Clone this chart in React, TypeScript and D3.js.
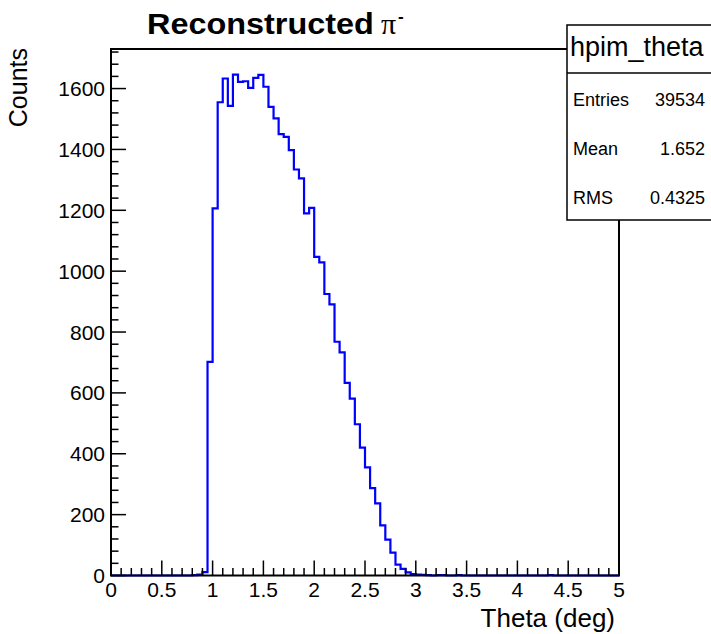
import React from "react";
import * as d3 from "d3";

// ---- data ----
const binLow = 0;
const binHigh = 5;
const counts: number[] = [
  0, 0, 0, 0, 0, 0, 0, 0, 0, 0,
  0, 0, 0, 0, 0, 0, 1, 3, 11, 702,
  1206, 1555, 1633, 1543, 1646, 1622, 1624, 1602, 1635, 1645,
  1606, 1540, 1502, 1450, 1441, 1398, 1334, 1305, 1190, 1208,
  1047, 1029, 925, 891, 768, 733, 633, 581, 497, 420,
  355, 287, 237, 165, 118, 75, 36, 22, 10, 5,
  3, 2, 1, 0, 1, 1, 0, 0, 1, 0,
  0, 0, 0, 0, 0, 0, 0, 0, 0, 0,
  0, 0, 0, 0, 0, 0, 1, 0, 0, 0,
  0, 0, 0, 0, 0, 0, 0, 0, 0, 0,
];
const xTickLabels = ["0", "0.5", "1", "1.5", "2", "2.5", "3", "3.5", "4", "4.5", "5"];
const xTickValues = [0, 0.5, 1, 1.5, 2, 2.5, 3, 3.5, 4, 4.5, 5];
const yTickValues = [0, 200, 400, 600, 800, 1000, 1200, 1400, 1600];
const yMax = 1730;
const titleText = "Reconstructed";
const titleSymbol = "π";
const titleSup = "-";
const xTitle = "Theta (deg)";
const yTitle = "Counts";
const statsName = "hpim_theta";
const statsLabels = ["Entries", "Mean", "RMS"];
const statsValues = ["39534", "1.652", "0.4325"];

// ---- layout ----
const W = 711;
const H = 634;
const L = 111;
const R = 619;
const T = 49;
const B = 575.5;
const FONT = "'Liberation Sans', Arial, Helvetica, sans-serif";
const SERIF = "'Liberation Serif', 'Times New Roman', serif";

export default function App() {
  const x = d3.scaleLinear().domain([binLow, binHigh]).range([L, R]);
  const y = d3.scaleLinear().domain([0, yMax]).range([B, T]);
  const bw = (binHigh - binLow) / counts.length;

  const pts: [number, number][] = counts.map((c, i) => [x(binLow + i * bw), y(c)]);
  pts.push([x(binHigh), y(counts[counts.length - 1])]);
  const line = d3.line<[number, number]>().x((d) => d[0]).y((d) => d[1]).curve(d3.curveStepAfter);
  const histPath = line(pts) || "";

  const xMinor = d3.range(0, 51).map((i) => i * 0.1).filter((v) => Math.abs(v * 2 - Math.round(v * 2)) > 1e-6);
  const yMinor = d3.range(0, 44).map((i) => i * 40).filter((v) => v % 200 !== 0 && v <= yMax);

  const majorLen = 15;
  const minorLen = 7.5;

  return (
    <div style={{ position: "absolute", left: 0, top: 0 }}>
      <svg width={W} height={H} viewBox={`0 0 ${W} ${H}`} style={{ display: "block" }}>
        <rect x={0} y={0} width={W} height={H} fill="#ffffff" />
        {/* histogram */}
        <path d={histPath} fill="none" stroke="#0000ff" strokeWidth={2.2} />
        {/* frame */}
        <rect x={L} y={T} width={R - L} height={B - T} fill="none" stroke="#000" strokeWidth={2} />
        {/* x ticks */}
        {xTickValues.map((v) => (
          <line key={"xM" + v} x1={x(v)} x2={x(v)} y1={B} y2={B - majorLen} stroke="#000" strokeWidth={1.5} />
        ))}
        {xMinor.map((v) => (
          <line key={"xm" + v} x1={x(v)} x2={x(v)} y1={B} y2={B - minorLen} stroke="#000" strokeWidth={1.5} />
        ))}
        {xTickValues.map((v, i) => (
          <text key={"xl" + v} x={x(v)} y={597} textAnchor="middle" fontFamily={FONT} fontSize={21} fill="#000">
            {xTickLabels[i]}
          </text>
        ))}
        {/* y ticks */}
        {yTickValues.map((v) => (
          <line key={"yM" + v} x1={L} x2={L + majorLen} y1={y(v)} y2={y(v)} stroke="#000" strokeWidth={1.5} />
        ))}
        {yMinor.map((v) => (
          <line key={"ym" + v} x1={L} x2={L + minorLen} y1={y(v)} y2={y(v)} stroke="#000" strokeWidth={1.5} />
        ))}
        {yTickValues.map((v) => (
          <text key={"yl" + v} x={105} y={y(v) + 7.5} textAnchor="end" fontFamily={FONT} fontSize={21} fill="#000">
            {String(v)}
          </text>
        ))}
        {/* axis titles */}
        <text x={615} y={627} textAnchor="end" fontFamily={FONT} fontSize={26} fill="#000">
          {xTitle}
        </text>
        <text transform="translate(27,48) rotate(-90)" textAnchor="end" fontFamily={FONT} fontSize={25} fill="#000">
          {yTitle}
        </text>
        {/* title */}
        <text transform="translate(147,34) scale(1.08,1)" x={0} y={0} fontFamily={FONT} fontSize={30} fontWeight="bold" fill="#000">
          {titleText}
        </text>
        <text x={381} y={34} fontFamily={SERIF} fontSize={30} fill="#000">
          {titleSymbol}
        </text>
        <text x={398} y={22} fontFamily={FONT} fontSize={17} fontWeight="bold" fill="#000">
          {titleSup}
        </text>
        {/* stats box */}
        <rect x={567} y={25} width={150} height={195} fill="#ffffff" stroke="#000" strokeWidth={1.5} />
        <line x1={567} x2={717} y1={73} y2={73} stroke="#000" strokeWidth={1.5} />
        <text x={570} y={56} fontFamily={FONT} fontSize={27} fill="#000">
          {statsName}
        </text>
        {statsLabels.map((lab, i) => (
          <g key={lab}>
            <text x={573} y={106 + i * 49} fontFamily={FONT} fontSize={18} fill="#000">
              {lab}
            </text>
            <text x={705} y={106 + i * 49} textAnchor="end" fontFamily={FONT} fontSize={18} fill="#000">
              {statsValues[i]}
            </text>
          </g>
        ))}
      </svg>
    </div>
  );
}
